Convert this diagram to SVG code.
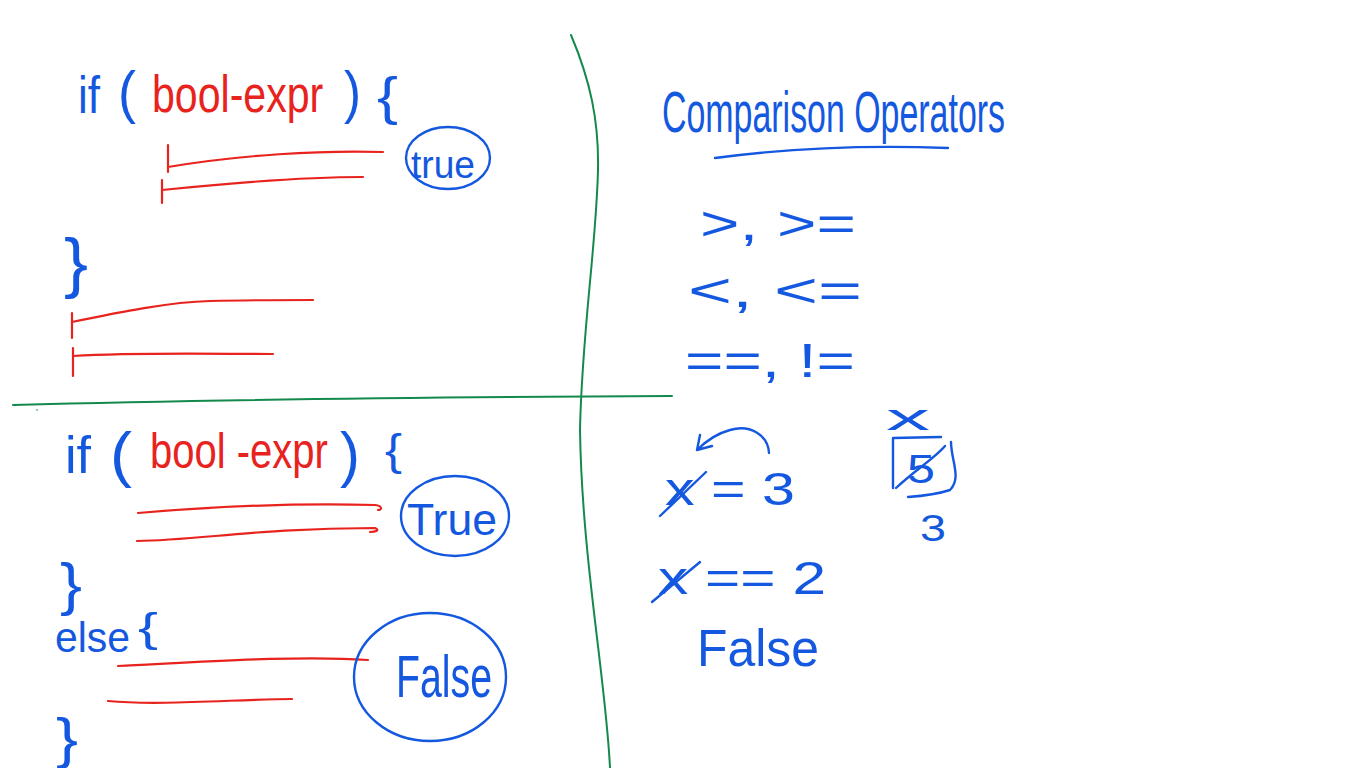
<svg xmlns="http://www.w3.org/2000/svg" width="1366" height="768" viewBox="0 0 1366 768">
<style>
.b{fill:#1558e0;font-family:"Liberation Sans","DejaVu Sans",sans-serif}
.r{fill:#e8231e;font-family:"Liberation Sans","DejaVu Sans",sans-serif}
.bs{fill:none;stroke:#1558e0;stroke-width:2.4;stroke-linecap:round;stroke-linejoin:round}
.rs{fill:none;stroke:#e8231e;stroke-width:2.2;stroke-linecap:round}
.gs{fill:none;stroke:#138a4c;stroke-width:2;stroke-linecap:round}
</style>
<rect width="1366" height="768" fill="#fff"/>
<!-- dividers -->
<path class="gs" d="M571,35 C590,80 599,120 598,170 C596,250 582,330 580,430 C582,560 606,680 610,768"/>
<path class="gs" d="M13,405 C200,400 450,397 672,396"/>
<circle cx="37" cy="410" r="0.8" fill="#138a4c"/>

<!-- top-left block -->
<text class="b" x="78" y="113" font-size="52" textLength="22" lengthAdjust="spacingAndGlyphs">if</text>
<text class="b" x="118" y="112" font-size="58" textLength="18" lengthAdjust="spacingAndGlyphs">(</text>
<text class="r" font-size="52" transform="translate(152,112) scale(0.79,1)">bool-expr</text>
<text class="b" x="344" y="112" font-size="58" textLength="17" lengthAdjust="spacingAndGlyphs">)</text>
<text class="b" x="377" y="114" font-size="52" textLength="21" lengthAdjust="spacingAndGlyphs">{</text>
<path class="rs" d="M168,145 L168,172 M168,167 C240,155 320,150 383,152"/>
<path class="rs" d="M162,180 L162,203 M162,190 C230,183 300,177 363,177"/>
<ellipse class="bs" cx="448" cy="158" rx="42" ry="31"/>
<text class="b" x="411" y="178" font-size="38" textLength="64" lengthAdjust="spacingAndGlyphs">true</text>
<text class="b" x="64" y="285" font-size="66" textLength="24" lengthAdjust="spacingAndGlyphs">}</text>
<path class="rs" d="M72,313 L72,338 M72,322 C120,312 170,302 210,301 C250,300 290,300 313,300"/>
<path class="rs" d="M73,348 L73,376 M73,356 C140,352 220,354 273,354"/>

<!-- bottom-left block -->
<text class="b" x="65" y="473" font-size="52" textLength="26" lengthAdjust="spacingAndGlyphs">if</text>
<text class="b" x="110" y="475" font-size="62" textLength="22" lengthAdjust="spacingAndGlyphs">(</text>
<text class="r" font-size="50" transform="translate(150,468) scale(0.8,1)">bool -expr</text>
<text class="b" x="340" y="475" font-size="62" textLength="20" lengthAdjust="spacingAndGlyphs">)</text>
<text class="b" x="385" y="465" font-size="44" textLength="17" lengthAdjust="spacingAndGlyphs">{</text>
<path class="rs" d="M138,513 C220,506 300,503 375,505 C383,506 382,510 378,510"/>
<path class="rs" d="M137,541 C200,540 260,528 375,528 C380,530 376,532 370,532"/>
<ellipse class="bs" cx="455" cy="516" rx="54" ry="40"/>
<text class="b" x="407" y="535" font-size="44" textLength="90" lengthAdjust="spacingAndGlyphs">True</text>
<text class="b" x="60" y="604" font-size="58" textLength="22" lengthAdjust="spacingAndGlyphs">}</text>
<text class="b" x="55" y="652" font-size="42" textLength="75" lengthAdjust="spacingAndGlyphs">else</text>
<text class="b" x="138" y="642" font-size="40" textLength="20" lengthAdjust="spacingAndGlyphs">{</text>
<path class="rs" d="M118,666 C200,662 300,655 368,660"/>
<path class="rs" d="M108,701 C160,706 240,699 292,699"/>
<ellipse class="bs" cx="430" cy="677" rx="76" ry="64"/>
<text class="b" x="396" y="697" font-size="60" textLength="96" lengthAdjust="spacingAndGlyphs">False</text>
<text class="b" x="56" y="757" font-size="56" textLength="22" lengthAdjust="spacingAndGlyphs">}</text>

<!-- right side -->
<text class="b" x="662" y="132" font-size="58" textLength="343" lengthAdjust="spacingAndGlyphs">Comparison Operators</text>
<path class="bs" d="M715,158 C790,148 870,145 948,148"/>
<text class="b" x="700" y="240" font-size="48" textLength="156" lengthAdjust="spacingAndGlyphs">&gt;, &gt;=</text>
<text class="b" x="688" y="307" font-size="48" textLength="174" lengthAdjust="spacingAndGlyphs">&lt;, &lt;=</text>
<text class="b" x="685" y="377" font-size="48" textLength="170" lengthAdjust="spacingAndGlyphs">==, !=</text>

<path class="bs" d="M769,453 C768,435 750,424 730,430 C715,434 705,442 697,450 M697,450 L700,435 M697,450 L712,446"/>
<text class="b" x="665" y="505" font-size="46" textLength="130" lengthAdjust="spacingAndGlyphs">x = 3</text>
<path class="bs" d="M660,516 L706,472"/>

<text class="b" x="886" y="430" font-size="36" textLength="44" lengthAdjust="spacingAndGlyphs">x</text>
<path class="bs" d="M893,438 L893,488 M893,438 L941,437"/>
<text class="b" x="907" y="483" font-size="40" textLength="28" lengthAdjust="spacingAndGlyphs">5</text>
<path class="bs" d="M896,488 C915,470 935,458 945,446"/>
<path class="bs" d="M951,442 C951,460 962,478 950,490 C938,494 922,496 908,497"/>
<text class="b" x="920" y="541" font-size="36" textLength="26" lengthAdjust="spacingAndGlyphs">3</text>

<text class="b" x="658" y="594" font-size="46" textLength="168" lengthAdjust="spacingAndGlyphs">x == 2</text>
<path class="bs" d="M652,602 L700,562"/>
<text class="b" x="697" y="666" font-size="52" textLength="122" lengthAdjust="spacingAndGlyphs">False</text>
</svg>
